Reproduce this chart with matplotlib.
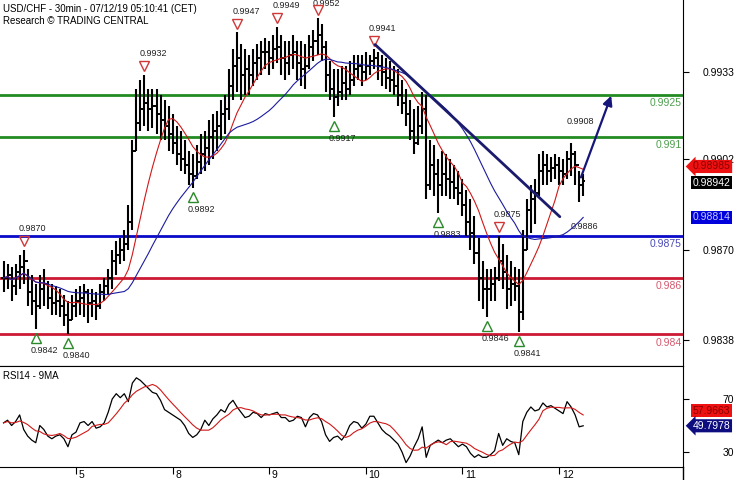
import numpy as np
import pandas as pd
import matplotlib
matplotlib.use('Agg')
import matplotlib.pyplot as plt
import matplotlib.transforms as mtransforms
from matplotlib.lines import Line2D

plt.rcParams['font.family'] = ['Liberation Sans', 'DejaVu Sans']

highs = [9866, 9865, 9864, 9865, 9868, 9870, 9863, 9861, 9858, 9861, 9863, 9859,
         9858, 9857, 9856, 9854, 9852, 9854, 9856, 9857, 9858, 9856, 9856, 9855,
         9858, 9860, 9863, 9870, 9873, 9874, 9877, 9886, 9909, 9927, 9930, 9932,
         9927, 9927, 9927, 9925, 9923, 9921, 9918, 9914, 9912, 9909, 9905, 9904,
         9907, 9911, 9912, 9916, 9918, 9919, 9923, 9925, 9934, 9941, 9947, 9943,
         9941, 9939, 9941, 9943, 9944, 9945, 9944, 9946, 9949, 9946, 9944, 9944,
         9946, 9944, 9944, 9943, 9946, 9948, 9952, 9950, 9944, 9937, 9934, 9934,
         9935, 9935, 9937, 9939, 9939, 9939, 9940, 9939, 9941, 9940, 9939, 9938,
         9937, 9935, 9934, 9930, 9927, 9923, 9920, 9921, 9926, 9925, 9909, 9907,
         9902, 9905, 9904, 9902, 9900, 9898, 9895, 9891, 9888, 9882, 9874, 9866,
         9863, 9863, 9864, 9875, 9872, 9868, 9866, 9864, 9863, 9877, 9888, 9893,
         9895, 9904, 9905, 9904, 9903, 9904, 9903, 9902, 9905, 9908, 9905, 9898,
         9897]
lows = [9855, 9856, 9852, 9854, 9856, 9858, 9850, 9847, 9842, 9849, 9850, 9849,
        9847, 9847, 9846, 9843, 9840, 9845, 9846, 9847, 9846, 9844, 9846, 9845,
        9849, 9852, 9854, 9856, 9861, 9865, 9866, 9870, 9877, 9905, 9912, 9914,
        9912, 9913, 9911, 9909, 9909, 9905, 9904, 9900, 9898, 9897, 9893, 9892,
        9895, 9897, 9898, 9900, 9902, 9905, 9909, 9911, 9916, 9923, 9926, 9923,
        9925, 9925, 9928, 9930, 9932, 9934, 9932, 9934, 9936, 9932, 9930, 9932,
        9934, 9930, 9928, 9927, 9934, 9937, 9939, 9937, 9926, 9923, 9917, 9921,
        9923, 9923, 9925, 9928, 9930, 9928, 9930, 9932, 9934, 9930, 9928, 9927,
        9926, 9925, 9921, 9918, 9914, 9909, 9904, 9907, 9911, 9888, 9891, 9889,
        9883, 9889, 9889, 9888, 9888, 9886, 9882, 9875, 9870, 9865, 9852, 9849,
        9846, 9852, 9852, 9859, 9856, 9849, 9850, 9852, 9841, 9845, 9870, 9876,
        9879, 9889, 9893, 9893, 9894, 9895, 9893, 9893, 9895, 9896, 9893, 9887,
        9889]
closes = [9860, 9861, 9857, 9862, 9864, 9866, 9855, 9852, 9850, 9856, 9858, 9853,
          9851, 9852, 9850, 9847, 9845, 9850, 9852, 9853, 9855, 9851, 9852, 9850,
          9855, 9857, 9860, 9866, 9868, 9870, 9872, 9880, 9905, 9915, 9920, 9922,
          9920, 9921, 9918, 9916, 9914, 9911, 9908, 9904, 9902, 9900, 9897, 9896,
          9901, 9904, 9906, 9910, 9912, 9914, 9918, 9920, 9928, 9935, 9938, 9932,
          9934, 9932, 9936, 9938, 9940, 9940, 9938, 9941, 9942, 9938, 9936, 9939,
          9940, 9936, 9934, 9935, 9942, 9944, 9946, 9942, 9932, 9927, 9924, 9926,
          9929, 9927, 9930, 9934, 9935, 9933, 9935, 9937, 9938, 9935, 9933, 9931,
          9930, 9928, 9925, 9922, 9918, 9912, 9908, 9914, 9920, 9893, 9900, 9897,
          9893, 9897, 9895, 9894, 9892, 9890, 9886, 9880, 9876, 9869, 9860, 9856,
          9856, 9858, 9860, 9866, 9862, 9856, 9858, 9857, 9848, 9870, 9884, 9888,
          9890, 9898, 9900, 9898, 9899, 9900, 9898, 9897, 9902, 9904, 9900, 9893,
          9894.2]
rsi = [52, 54, 50, 53, 58, 47, 42, 39, 37, 50, 47, 42,
       40, 42, 43, 40, 34, 43, 45, 52, 53, 50, 53, 48,
       49, 52, 60, 70, 74, 71, 74, 68, 82, 86, 84, 81,
       78, 75, 74, 69, 62, 60, 58, 56, 54, 50, 44, 41,
       43, 47, 54, 50, 55, 58, 62, 60, 66, 69, 64, 60,
       56, 57, 60, 59, 56, 59, 58, 59, 60, 56, 56, 53,
       54, 57, 56, 49, 56, 59, 58, 53, 43, 38, 41, 42,
       39, 43, 50, 53, 52, 48, 51, 57, 57, 52, 47, 44,
       42, 39, 36, 30, 22, 27, 34, 40, 49, 26, 35, 37,
       39, 37, 39, 40, 37, 34, 36, 34, 29, 26, 28, 26,
       26, 28, 31, 44, 35, 40, 38, 37, 28, 53, 60, 64,
       61, 62, 67, 64, 65, 63, 61, 59, 68, 64, 58, 49,
       49.7978]

# support / resistance levels
levels = [0.9925, 0.9910, 0.9875, 0.9860, 0.9840]
level_labels = ['0.9925', '0.991', '0.9875', '0.986', '0.984']
level_colors = ['#228b22', '#228b22', '#0a0ac8', '#cc1a33', '#cc1a33']
level_text_colors = ['#4f9f4f', '#4f9f4f', '#4a4ab8', '#d45a6e', '#d45a6e']

# swing highs / lows marked on the chart (bar index)
peaks = [5, 35, 58, 68, 78, 92, 123]
troughs = [8, 16, 47, 82, 108, 120, 128]
peak_no_marker = [141]

# day separators
day_pos = [18, 42, 66, 90, 114, 138]
day_labels = ['5', '8', '9', '10', '11', '12']

# analyst drawings
trend_x = [92.3, 138.2]
trend_y = [0.99427, 0.98817]
arrow_x = [143.2, 151.2]
arrow_y = [0.98947, 0.99255]
target_pos = (141.0, 0.98784)
target_label = '0.9886'

hi = np.array(highs) / 10000
lo = np.array(lows) / 10000
cl = np.array(closes) / 10000
op = np.r_[cl[0], cl[:-1]]
x = np.arange(len(cl))

ma_fast = pd.Series(cl).rolling(10, min_periods=1).mean()
ma_slow = pd.Series(cl).rolling(25, min_periods=1).mean()
rsi_ma = pd.Series(rsi).rolling(6, min_periods=1).mean()

fig = plt.figure(figsize=(7.35, 4.8), dpi=100)
ax = fig.add_axes([0, 114 / 480, 683 / 735, 366 / 480])
ax2 = fig.add_axes([0, 13 / 480, 683 / 735, 101 / 480])

# price bars
ax.vlines(x, lo, hi, color='black', lw=1.5, zorder=3)
ax.hlines(op, x - 0.55, x, color='black', lw=1.4, zorder=3)
ax.hlines(cl, x, x + 0.55, color='black', lw=1.4, zorder=3)

ax.plot(x, ma_fast, color='#d01818', lw=0.8, zorder=4)
ax.plot(x, ma_slow, color='#1c1ca0', lw=0.8, zorder=4)

for lev, lab, c, tc in zip(levels, level_labels, level_colors, level_text_colors):
    ax.axhline(lev, color=c, lw=2, zorder=2)
    ax.annotate(lab, xy=(1, lev), xycoords=('axes fraction', 'data'),
                xytext=(-1, -6), textcoords='offset points', ha='right', va='center',
                fontsize=7.5, color=tc)

# swing markers
up = mtransforms.offset_copy(ax.transData, fig=fig, y=6, units='points')
down = mtransforms.offset_copy(ax.transData, fig=fig, y=-6.5, units='points')
ax.plot(peaks, hi[peaks], 'v', ms=7, mfc='none', mec='#d03838', mew=1, transform=up, zorder=5)
ax.plot(troughs, lo[troughs], '^', ms=7, mfc='none', mec='#2a8a2a', mew=1, transform=down, zorder=5)
for i in peaks + peak_no_marker:
    # the highest label sits against the top edge, keep it inside
    dy = 15 if hi[i] < 0.9950 else 11
    ax.annotate(f'{hi[i]:.4f}', xy=(i, hi[i]), xytext=(-3.5, dy), textcoords='offset points',
                ha='left', va='center', fontsize=6.5, color='#222222', annotation_clip=False)
for i in troughs:
    ax.annotate(f'{lo[i]:.4f}', xy=(i, lo[i]), xytext=(-3.5, -15.5), textcoords='offset points',
                ha='left', va='center', fontsize=6.5, color='#222222')

ax.plot(trend_x, trend_y, color='#1b1b6e', lw=2, solid_capstyle='round', zorder=6)
ax.annotate('', xy=(arrow_x[1], arrow_y[1]), xytext=(arrow_x[0], arrow_y[0]),
            arrowprops=dict(arrowstyle='-|>', color='#15157a', lw=1.6, mutation_scale=14), zorder=6)
ax.text(target_pos[0], target_pos[1], target_label, fontsize=6.5, va='center', color='#222222')

ax.set_xlim(-0.88, 168.8)
ax.set_ylim(0.98288, 0.99585)
ax.set_xticks([])
ax.yaxis.tick_right()
ax.set_yticks([0.9933, 0.9902, 0.9870, 0.9838])
ax.set_yticklabels(['0.9933', '0.9902', '0.9870', '0.9838'])
ax.tick_params(axis='y', direction='out', length=4, pad=33, labelsize=7.5)
for t in ax.get_yticklabels():
    t.set_ha('right')
ax.spines['left'].set_visible(False)
ax.spines['top'].set_visible(False)

# boxes with last values
ax.annotate(f'{ma_fast.iloc[-1]:.5f}', xy=(1, ma_fast.iloc[-1]), xycoords=('axes fraction', 'data'),
            xytext=(7, 2), textcoords='offset points', ha='left', va='center', fontsize=7.5,
            color='#8a0000', bbox=dict(boxstyle='larrow,pad=0.15', fc='#ee1111', ec='none'),
            annotation_clip=False, zorder=7)
ax.annotate(f'{cl[-1]:.5f}', xy=(1, cl[-1]), xycoords=('axes fraction', 'data'),
            xytext=(7, -1), textcoords='offset points', ha='left', va='center', fontsize=7.5,
            color='white', bbox=dict(boxstyle='square,pad=0.15', fc='black', ec='none'),
            annotation_clip=False, zorder=8)
ax.annotate(f'{ma_slow.iloc[-1]:.5f}', xy=(1, ma_slow.iloc[-1]), xycoords=('axes fraction', 'data'),
            xytext=(7, 0), textcoords='offset points', ha='left', va='center', fontsize=7.5,
            color='#c8c8ff', bbox=dict(boxstyle='square,pad=0.15', fc='#0000dd', ec='none'),
            annotation_clip=False, zorder=7)

# RSI panel
ax2.plot(x, rsi, color='black', lw=0.9)
ax2.plot(x, rsi_ma, color='#d01818', lw=0.8)
ax2.set_xlim(-0.88, 168.8)
ax2.set_ylim(18.7, 94.9)
ax2.yaxis.tick_right()
ax2.set_yticks([70, 30])
ax2.set_yticklabels(['70', '30'])
ax2.tick_params(axis='y', direction='out', length=4, pad=33, labelsize=7.5)
for t in ax2.get_yticklabels():
    t.set_ha('right')
ax2.set_xticks(day_pos)
ax2.set_xticklabels(day_labels)
ax2.tick_params(axis='x', direction='out', length=5, pad=-3, labelsize=7.5)
shift = mtransforms.ScaledTranslation(2 / 72, 0, fig.dpi_scale_trans)
for t in ax2.get_xticklabels():
    t.set_ha('left')
    t.set_transform(t.get_transform() + shift)
ax2.spines['left'].set_visible(False)

ax2.annotate(f'{rsi_ma.iloc[-1]:.4f}', xy=(1, rsi_ma.iloc[-1]), xycoords=('axes fraction', 'data'),
             xytext=(7, 3), textcoords='offset points', ha='left', va='center', fontsize=7.5,
             color='#8a0000', bbox=dict(boxstyle='square,pad=0.15', fc='#ee1111', ec='none'),
             annotation_clip=False)
ax2.annotate(f'{rsi[-1]:.4f}', xy=(1, rsi[-1]), xycoords=('axes fraction', 'data'),
             xytext=(7, 0), textcoords='offset points', ha='left', va='center', fontsize=7.5,
             color='white', bbox=dict(boxstyle='larrow,pad=0.15', fc='#0d0d80', ec='none'),
             annotation_clip=False)

fig.add_artist(Line2D([683 / 735] * 2, [0, 13 / 480], transform=fig.transFigure, color='black', lw=1))

fig.text(3 / 735, 1 - 9 / 480, 'USD/CHF - 30min - 07/12/19 05:10:41 (CET)', fontsize=7, va='center')
fig.text(3 / 735, 1 - 21 / 480, 'Research © TRADING CENTRAL', fontsize=7, va='center')
fig.text(3 / 735, 1 - 376 / 480, 'RSI14 - 9MA', fontsize=7, va='center')

fig.savefig('out.png', dpi=100, facecolor='white')
